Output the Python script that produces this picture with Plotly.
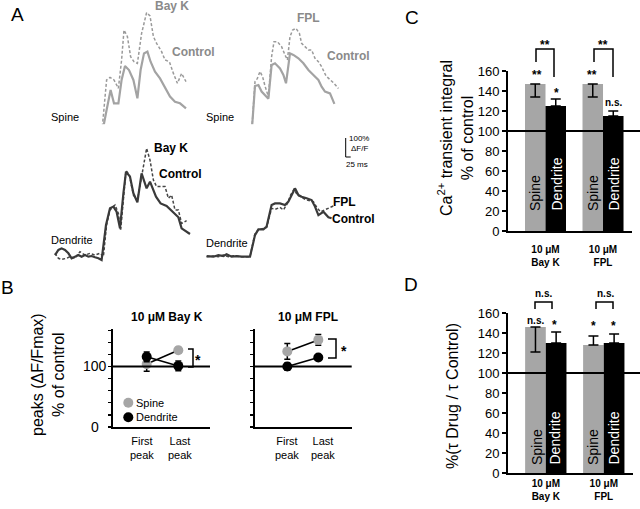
import plotly.graph_objects as go

W, H = 640, 509
def px(x): return x / W
def py(y): return 1 - y / H

FONT = "Liberation Sans, Arial, sans-serif"
GRAY = "#a6a6a6"
SPINE_LINE = "#a3a3a3"
SPINE_DASH = "#9a9a9a"
DEND_LINE = "#3a3a3a"
LABEL_GRAY = "#8a8a8a"

# ---------------- Panel A data: time (ms) and dF/F (%) ----------------
sb_ctrl_t = [20,37,53,70,87,103,120,137,153,170,187,203,220,237,258,283,303,320,342,358,375,395,417,437,453,470,487,503,525,550,575,600,625,650,680]
sb_ctrl_v = [10,27,-21,0,-10,31,10,56,6,-6,21,31,21,10,-6,156,281,198,198,344,431,406,344,229,406,510,521,458,396,354,292,240,208,198,167]
sb_drug_t = [20,37,50,70,92,108,125,142,158,175,192,208,225,242,258,283,300,320,342,358,370,387,403,420,437,458,483,500,517,533,558,575,597,617,637,658,680]
sb_drug_v = [-10,21,-31,10,0,15,21,42,10,21,35,56,31,21,0,344,360,344,292,469,656,615,490,458,448,635,765,744,615,573,521,469,458,385,323,385,333]

sf_ctrl_t = [33,58,83,108,125,142,167,192,208,233,250,258,275,292,308,342,358,375,400,417,430,450,467,492,517,542,567,592,608,625,650,672]
sf_ctrl_v = [4,0,10,2,15,2,8,2,10,0,2,4,300,306,265,221,431,442,410,369,317,504,494,473,442,400,369,338,296,265,254,188]
sf_drug_t = [33,58,83,108,125,142,167,192,208,233,250,258,275,287,300,313,325,342,358,370,387,408,425,437,450,463,480,497,508,525,542,558,575,592,608,630,653,670,692]
sf_drug_v = [2,6,4,8,2,10,4,6,2,4,2,4,327,348,390,358,300,233,483,577,577,546,494,463,608,650,660,629,567,546,525,525,473,452,421,363,338,317,285]

db_ctrl_t = [25,42,58,75,92,108,125,142,158,175,192,208,225,242,258,280,300,317,333,350,367,380,400,417,437,458,483,500,530,553,583,603,625,642,658,700]
db_ctrl_v = [12,44,54,44,23,-8,2,12,2,12,2,6,-2,-8,-19,200,304,315,283,179,398,533,502,398,342,523,429,471,377,335,319,294,269,248,179,144]
db_drug_t = [25,42,58,83,100,125,150,175,200,225,250,267,283,300,325,342,353,370,380,397,417,437,453,467,483,500,517,533,558,575,592,608,625,642,658,683]
db_drug_v = [23,-8,-15,-8,2,-8,33,12,23,12,23,2,200,294,325,273,165,398,540,512,387,356,481,565,679,606,481,440,440,440,367,387,294,294,210,227]

df_ctrl_t = [33,67,92,117,133,158,183,208,250,275,292,317,333,358,375,400,425,442,463,475,492,508,533,558,575,592,617,642,658]
df_ctrl_v = [6,2,12,6,17,2,6,2,2,137,173,173,190,325,335,335,325,346,398,429,387,377,367,356,315,262,283,248,242]
df_drug_t = [33,67,92,117,142,167,200,250,275,292,317,333,358,375,400,417,437,453,470,487,508,533,567,587,603,625,647,667]
df_drug_v = [2,6,2,12,2,8,2,2,148,169,179,185,304,298,310,294,335,387,423,387,373,356,346,304,283,294,304,319]

# ---------------- Panel B data ----------------
peaks = ["First", "Last"]
b_bayk_spine = [104, 127]
b_bayk_spine_err = [12, 4.5]
b_bayk_dend = [116, 101]
b_bayk_dend_err = [8, 8]
b_fpl_spine = [125, 144]
b_fpl_spine_err = [13, 9]
b_fpl_dend = [100, 115]
b_fpl_dend_err = [6, 3]

# ---------------- Panel C data ----------------
conds = ["Bay K", "FPL"]
cond_labels = ["<b>10 μM<br>Bay K</b>", "<b>10 μM<br>FPL</b>"]
c_spine = [147, 147]
c_spine_err_minus = [13, 13]
c_dend = [125, 115]
c_dend_err_plus = [7, 5]

# ---------------- Panel D data ----------------
d_spine = [146, 128]
d_spine_err_plus = [0, 9]
d_spine_err_minus = [25, 0]
d_dend = [130, 130]
d_dend_err_plus = [11, 9]

fig = go.Figure()

# ---- Panel A traces ----
a_sets = [
    (sb_ctrl_t, sb_ctrl_v, sb_drug_t, sb_drug_v, SPINE_LINE, SPINE_DASH, 1),
    (sf_ctrl_t, sf_ctrl_v, sf_drug_t, sf_drug_v, SPINE_LINE, SPINE_DASH, 2),
    (db_ctrl_t, db_ctrl_v, db_drug_t, db_drug_v, DEND_LINE, "#454545", 3),
    (df_ctrl_t, df_ctrl_v, df_drug_t, df_drug_v, DEND_LINE, "#454545", 4),
]
for ct, cv, dt, dv, c1, c2, k in a_sets:
    ax = "" if k == 1 else str(k)
    fig.add_trace(go.Scatter(x=dt, y=dv, mode="lines", line=dict(color=c2, width=1.5, dash="3px,2px"),
                             xaxis="x" + ax, yaxis="y" + ax, hoverinfo="skip"))
    fig.add_trace(go.Scatter(x=ct, y=cv, mode="lines", line=dict(color=c1, width=2.2),
                             xaxis="x" + ax, yaxis="y" + ax, hoverinfo="skip"))

# ---- Panel B traces ----
def add_b(vals, errs, color, ax):
    fig.add_trace(go.Scatter(x=peaks, y=vals, mode="lines+markers",
                             line=dict(color="black", width=1.6),
                             marker=dict(color=color, size=10),
                             error_y=dict(type="data", array=errs, color="black", thickness=1.5, width=3),
                             xaxis="x" + ax, yaxis="y" + ax))
add_b(b_bayk_spine, b_bayk_spine_err, GRAY, "5")
add_b(b_bayk_dend, b_bayk_dend_err, "black", "5")
add_b(b_fpl_spine, b_fpl_spine_err, GRAY, "6")
add_b(b_fpl_dend, b_fpl_dend_err, "black", "6")

# ---- Panel C bars ----
fig.add_trace(go.Bar(x=conds, y=c_spine, marker=dict(color=GRAY, line=dict(width=0)),
                     error_y=dict(type="data", symmetric=False, array=[0, 0], arrayminus=c_spine_err_minus,
                                  color="black", thickness=1.5, width=5),
                     xaxis="x7", yaxis="y7"))
fig.add_trace(go.Bar(x=conds, y=c_dend, marker=dict(color="black", line=dict(width=0)),
                     error_y=dict(type="data", symmetric=False, array=c_dend_err_plus, arrayminus=[0, 0],
                                  color="black", thickness=1.5, width=5),
                     xaxis="x7", yaxis="y7"))
# ---- Panel D bars ----
fig.add_trace(go.Bar(x=conds, y=d_spine, marker=dict(color=GRAY, line=dict(width=0)),
                     error_y=dict(type="data", symmetric=False, array=d_spine_err_plus, arrayminus=d_spine_err_minus,
                                  color="black", thickness=1.5, width=5),
                     xaxis="x8", yaxis="y8"))
fig.add_trace(go.Bar(x=conds, y=d_dend, marker=dict(color="black", line=dict(width=0)),
                     error_y=dict(type="data", symmetric=False, array=d_dend_err_plus, arrayminus=[0, 0],
                                  color="black", thickness=1.5, width=5),
                     xaxis="x8", yaxis="y8"))

layout = dict(template="none", width=W, height=H,
              margin=dict(l=0, r=0, t=0, b=0, pad=0, autoexpand=False), showlegend=False,
              paper_bgcolor="white", plot_bgcolor="white",
              font=dict(family=FONT, color="black"),
              barmode="group", bargap=0.287, bargroupgap=0)

# Panel A axes (hidden)
a_geo = [(50, 135), (200, 134), (50, 257), (200, 257)]
for i, (x0, base) in enumerate(a_geo, start=1):
    s = "" if i == 1 else str(i)
    layout["xaxis" + s] = dict(domain=[px(x0), px(x0 + 150)], range=[0, 750], visible=False,
                               automargin=False, anchor="y" + s)
    layout["yaxis" + s] = dict(domain=[py(base + 12.8), py(base - 132.8)], range=[-80, 830],
                               visible=False, automargin=False, anchor="x" + s)

# Panel B axes
yb_ticks = list(range(0, 161, 20))
for s, (x0, x1, r0, r1) in {"5": (113, 210, -1.066, 2.003), "6": (255, 351.7, -1.042, 2.077)}.items():
    layout["xaxis" + s] = dict(domain=[px(x0), px(x1)], range=[r0, r1], type="category",
                               showline=True, linecolor="black", linewidth=2, ticks="",
                               showticklabels=False, showgrid=False, zeroline=False,
                               automargin=False, anchor="y" + s)
    layout["yaxis" + s] = dict(domain=[py(427), py(329)], range=[0, 162], showline=True,
                               linecolor="black", linewidth=2, ticks="outside", ticklen=3,
                               tickwidth=1.2, tickcolor="black", tickvals=yb_ticks,
                               showticklabels=False, showgrid=False, zeroline=False,
                               automargin=False, anchor="x" + s)

# Panel C / D axes
for s, (x1, yb, yt, stand) in {"7": (632, 231, 71, 8), "8": (633, 473, 313, 0)}.items():
    layout["xaxis" + s] = dict(domain=[px(508), px(x1)], range=[-0.652, 1.504], type="category",
                               showline=True, linecolor="black", linewidth=2, ticks="",
                               tickvals=conds, ticktext=cond_labels, tickfont=dict(size=10),
                               ticklabelstandoff=stand,
                               showgrid=False, zeroline=False, automargin=False, anchor="y" + s)
    layout["yaxis" + s] = dict(domain=[py(yb), py(yt)], range=[0, 160], showline=True,
                               linecolor="black", linewidth=2, ticks="outside", ticklen=4,
                               tickwidth=1.5, tickcolor="black", dtick=20, tickfont=dict(size=13),
                               showgrid=False, zeroline=False, automargin=False, anchor="x" + s)

def pth(points):
    return "M " + " L ".join(f"{px(x)},{py(y)}" for x, y in points)

def line_shape(points, width=1.5):
    return dict(type="path", xref="paper", yref="paper", path=pth(points),
                line=dict(color="black", width=width), layer="above")

shapes = [
    # reference lines at 100 %
    dict(type="line", xref="x5 domain", yref="y5", x0=0, x1=1, y0=100, y1=100, line=dict(color="black", width=2)),
    dict(type="line", xref="x6 domain", yref="y6", x0=0, x1=1, y0=100, y1=100, line=dict(color="black", width=2)),
    dict(type="line", xref="paper", yref="y7", x0=px(508), x1=1, y0=100, y1=100, line=dict(color="black", width=2), layer="above"),
    dict(type="line", xref="paper", yref="y8", x0=px(508), x1=1, y0=100, y1=100, line=dict(color="black", width=2), layer="above"),
    # scale bar
    line_shape([(345.7, 138), (345.7, 157), (350.7, 157)], 1),
    # B significance brackets
    line_shape([(188, 349), (193, 349), (193, 367), (188, 367)]),
    line_shape([(328, 339), (336, 339), (336, 358), (328, 358)]),
    # C brackets
    line_shape([(536, 62), (536, 49), (554, 49), (554, 77)]),
    line_shape([(594, 62), (594, 49), (613, 49), (613, 77)]),
    # D brackets
    line_shape([(535, 309), (535, 302), (552, 302), (552, 309)]),
    line_shape([(596, 309), (596, 302), (613, 302), (613, 309)]),
    # B legend swatches
    dict(type="circle", xref="paper", yref="paper", x0=px(123.3), x1=px(133.3), y0=py(407.7), y1=py(397.7),
         fillcolor=GRAY, line=dict(width=0)),
    dict(type="circle", xref="paper", yref="paper", x0=px(123.3), x1=px(133.3), y0=py(422.3), y1=py(412.3),
         fillcolor="black", line=dict(width=0)),
]
layout["shapes"] = shapes

def ann(text, x, y, size, color="black", bold=False, angle=0, xanchor="center", yanchor="middle"):
    t = f"<b>{text}</b>" if bold else text
    return dict(text=t, x=px(x), y=py(y), xref="paper", yref="paper", showarrow=False,
                font=dict(size=size, color=color, family=FONT), textangle=angle,
                xanchor=xanchor, yanchor=yanchor)

anns = [
    # panel letters
    ann("A", 17, 15, 19), ann("B", 7, 287, 19), ann("C", 412, 17, 19), ann("D", 411, 284, 19),
    # panel A labels
    ann("Bay K", 172, 6, 12, LABEL_GRAY, True),
    ann("Control", 193, 52, 12, LABEL_GRAY, True),
    ann("Spine", 65, 117, 11),
    ann("FPL", 308, 18, 12, LABEL_GRAY, True),
    ann("Control", 348, 56, 12, LABEL_GRAY, True),
    ann("Spine", 220, 117, 11),
    ann("Bay K", 171, 148, 12, "black", True),
    ann("Control", 180, 174, 12, "black", True),
    ann("Dendrite", 72, 240, 11),
    ann("FPL", 344, 202, 12, "black", True),
    ann("Control", 353, 219, 12, "black", True),
    ann("Dendrite", 227, 243, 11),
    ann("100%", 359, 138, 8), ann("ΔF/F", 359, 148, 8), ann("25 ms", 357, 164, 8),
    # panel B
    ann("peaks (ΔF/Fmax)<br>% of control", 48, 375, 16, angle=-90),
    ann("<b>10 μM Bay K</b>", 167, 317, 12),
    ann("<b>10 μM FPL</b>", 308, 317, 12),
    ann("100", 95, 366, 14), ann("0", 95, 427, 14),
    ann("First<br>peak", 142, 448, 11), ann("Last<br>peak", 180, 448, 11),
    ann("First<br>peak", 287, 448, 11), ann("Last<br>peak", 323, 448, 11),
    ann("Spine", 134, 402.7, 11, xanchor="left"),
    ann("Dendrite", 134, 417.3, 11, xanchor="left"),
    ann("*", 198, 360, 14, bold=True), ann("*", 344, 351, 14, bold=True),
    # panel C
    ann("Ca<sup>2+</sup> transient integral<br>% of control", 455, 138, 16, angle=-90),
    ann("Spine", 535, 213, 14, angle=-90, yanchor="bottom"),
    ann("Dendrite", 556, 213, 14, "white", angle=-90, yanchor="bottom"),
    ann("Spine", 593, 213, 14, angle=-90, yanchor="bottom"),
    ann("Dendrite", 613, 213, 14, "white", angle=-90, yanchor="bottom"),
    ann("**", 537, 75, 12, bold=True), ann("*", 556, 93, 12, bold=True),
    ann("**", 545, 45, 12, bold=True),
    ann("**", 592, 75, 12, bold=True), ann("n.s.", 613, 102, 10, bold=True),
    ann("**", 603, 45, 12, bold=True),
    # panel D
    ann("%(τ Drug / τ Control)", 452, 396, 16, angle=-90),
    ann("Spine", 537, 467, 14, angle=-90, yanchor="bottom"),
    ann("Dendrite", 554, 467, 14, "white", angle=-90, yanchor="bottom"),
    ann("Spine", 593, 467, 14, angle=-90, yanchor="bottom"),
    ann("Dendrite", 613, 467, 14, "white", angle=-90, yanchor="bottom"),
    ann("n.s.", 543, 293, 10, bold=True), ann("n.s.", 605, 293, 10, bold=True),
    ann("n.s.", 535, 320, 10, bold=True), ann("*", 554, 325, 12, bold=True),
    ann("*", 593, 326, 12, bold=True), ann("*", 613, 326, 12, bold=True),
]
layout["annotations"] = anns

fig.update_layout(**layout)
fig.write_html("out.html",
               config={"displayModeBar": False, "staticPlot": True},
               post_script="document.body.style.margin='0';document.body.style.padding='0';"
                           "document.body.style.overflow='hidden';")
